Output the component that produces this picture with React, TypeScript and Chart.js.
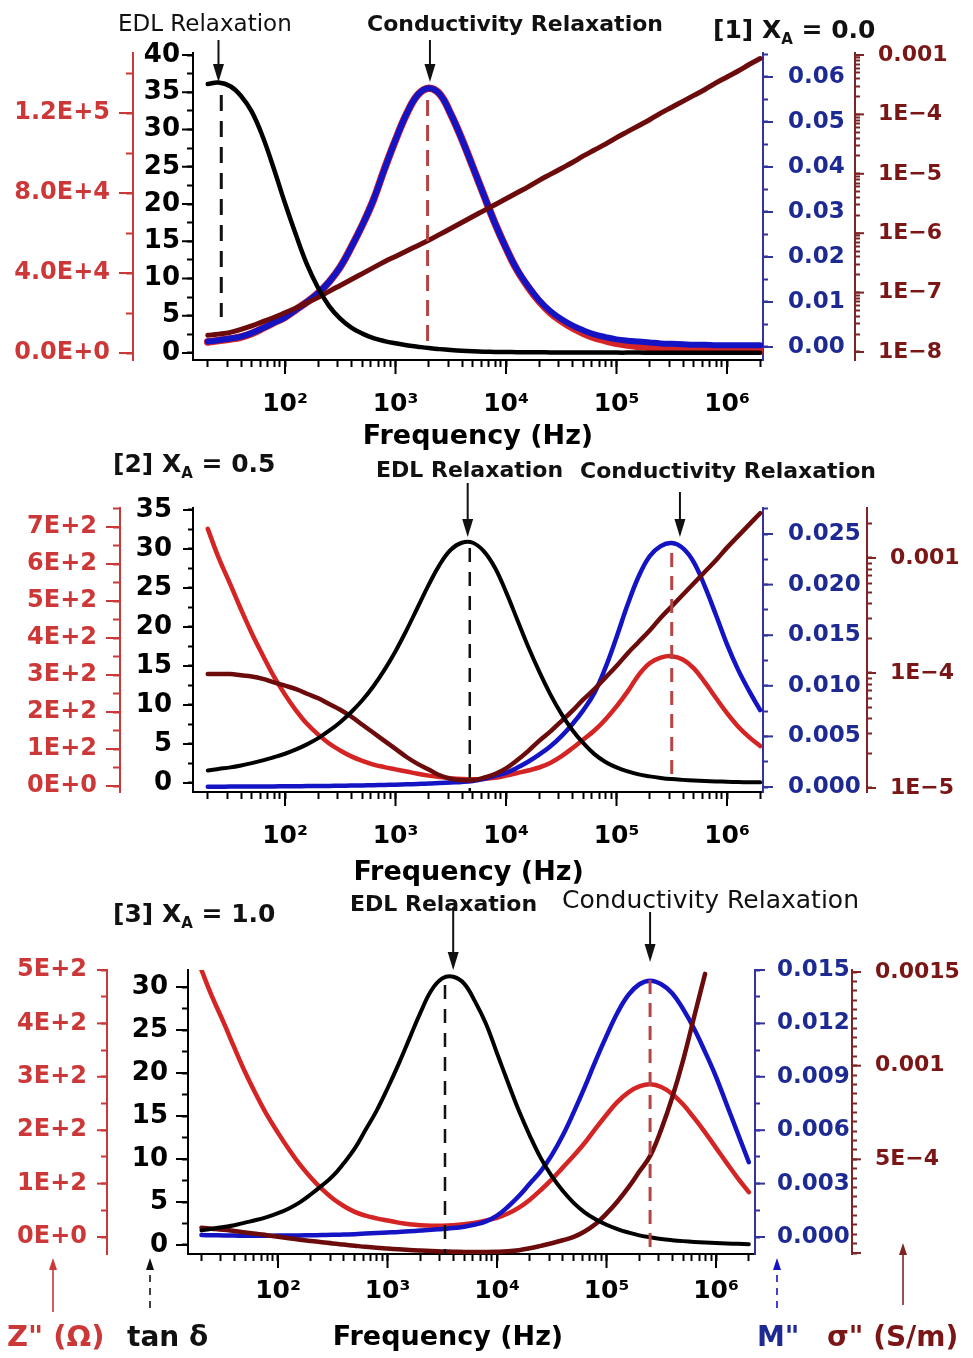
import React, { useEffect, useRef } from "react";
import { Chart, registerables } from "chart.js";

Chart.register(...registerables);

const FONT = "'DejaVu Sans', 'Noto Sans', sans-serif";
Chart.defaults.font.family = FONT;

// ---------------- DATA ----------------
// Frequency grid (Hz), 0.1 decade steps from 20 Hz to 2 MHz
const FREQ = [20, 25, 32, 40, 50, 63, 79, 100, 126, 158, 200, 251, 316, 398, 501, 631, 794, 1000, 1259, 1585, 1995, 2512, 3162, 3981, 5012, 6310, 7943, 10000, 12589, 15849, 19953, 25119, 31623, 39811, 50119, 63096, 79433, 100000, 125893, 158489, 199526, 251189, 316228, 398107, 501187, 630957, 794328, 1000000, 1258925, 1584893, 1995262];

// [1] XA = 0.0
const P1_TAN = [36.1, 36.3, 35.8, 34.5, 32.4, 29.0, 24.8, 20.1, 15.8, 11.9, 8.7, 6.3, 4.6, 3.4, 2.6, 2.0, 1.6, 1.3, 1.05, 0.85, 0.66, 0.52, 0.40, 0.30, 0.23, 0.18, 0.15, 0.13, 0.11, 0.10, 0.09, 0.08, 0.08, 0.07, 0.07, 0.06, 0.06, 0.05, 0.05, 0.05, 0.04, 0.04, 0.04, 0.03, 0.03, 0.03, 0.03, 0.02, 0.02, 0.02, 0.02];
const P1_Z = [5500, 6200, 7000, 8000, 9800, 12400, 15200, 17900, 21700, 25500, 30000, 35600, 43000, 53000, 64000, 76500, 92000, 106500, 119500, 129000, 132400, 129500, 119500, 107000, 93000, 78800, 64900, 52500, 41500, 33000, 25800, 20200, 16000, 12600, 9900, 7700, 6200, 4800, 4000, 3300, 2750, 2200, 1900, 1550, 1200, 1100, 1000, 1000, 1000, 1000, 1000];
const P1_M = [0.0012, 0.0015, 0.0019, 0.0023, 0.0031, 0.0042, 0.0054, 0.0066, 0.0083, 0.0100, 0.0120, 0.0145, 0.0178, 0.0222, 0.0271, 0.0327, 0.0395, 0.0460, 0.0518, 0.0560, 0.0575, 0.0562, 0.0518, 0.0462, 0.0400, 0.0337, 0.0275, 0.0220, 0.0172, 0.0135, 0.0104, 0.0080, 0.0062, 0.0048, 0.0037, 0.0028, 0.0022, 0.0017, 0.0014, 0.0012, 0.0010, 0.0008, 0.0007, 0.0006, 0.0005, 0.0005, 0.0004, 0.0004, 0.0004, 0.0004, 0.0004];
const P1_SIG = [1.91e-8, 2.0e-8, 2.14e-8, 2.4e-8, 2.75e-8, 3.24e-8, 3.8e-8, 4.57e-8, 5.5e-8, 6.76e-8, 8.3e-8, 1.05e-7, 1.32e-7, 1.66e-7, 2.09e-7, 2.63e-7, 3.31e-7, 4.07e-7, 5.0e-7, 6.17e-7, 7.59e-7, 9.55e-7, 1.2e-6, 1.51e-6, 1.91e-6, 2.4e-6, 3.02e-6, 3.8e-6, 4.79e-6, 6.03e-6, 7.76e-6, 9.77e-6, 1.23e-5, 1.55e-5, 2.0e-5, 2.51e-5, 3.16e-5, 4.07e-5, 5.13e-5, 6.46e-5, 8.13e-5, 1.05e-4, 1.32e-4, 1.66e-4, 2.09e-4, 2.63e-4, 3.39e-4, 4.27e-4, 5.37e-4, 6.92e-4, 8.71e-4];

// [2] XA = 0.5
const P2_TAN = [1.6, 1.8, 2.0, 2.25, 2.55, 2.9, 3.3, 3.75, 4.3, 4.95, 5.75, 6.7, 7.8, 9.1, 10.6, 12.4, 14.5, 16.9, 19.6, 22.5, 25.4, 28.0, 29.9, 30.8, 30.8, 29.7, 27.6, 24.5, 21.0, 17.5, 14.3, 11.4, 8.9, 6.8, 5.1, 3.7, 2.7, 2.0, 1.5, 1.1, 0.85, 0.65, 0.5, 0.4, 0.32, 0.26, 0.2, 0.16, 0.12, 0.1, 0.08];
const P2_Z = [695, 618, 545, 477, 413, 353, 297, 247, 204, 168, 139, 115, 96, 80, 68, 58, 51, 45, 39, 33, 28, 24, 21, 19, 18, 19, 22, 28, 35, 42, 50, 62, 80, 102, 126, 150, 180, 215, 255, 300, 332, 347, 351, 342, 318, 280, 238, 197, 161, 132, 108];
const P2_M = [0.00003, 0.00003, 0.00004, 0.00004, 0.00005, 0.00005, 0.00006, 0.00007, 0.00008, 0.00009, 0.0001, 0.00011, 0.00012, 0.00014, 0.00016, 0.00018, 0.0002, 0.00023, 0.00026, 0.0003, 0.00034, 0.0004, 0.00045, 0.0005, 0.0006, 0.0008, 0.0011, 0.0014, 0.0019, 0.0025, 0.0032, 0.0040, 0.0050, 0.0062, 0.0076, 0.0093, 0.0118, 0.0148, 0.0180, 0.0208, 0.0228, 0.0238, 0.0241, 0.0236, 0.0222, 0.0198, 0.0170, 0.0141, 0.0116, 0.0095, 0.0076];
const P2_SIG = [9.8e-5, 9.8e-5, 9.8e-5, 9.55e-5, 9.33e-5, 8.9e-5, 8.3e-5, 7.76e-5, 7.24e-5, 6.6e-5, 6.03e-5, 5.37e-5, 4.79e-5, 4.17e-5, 3.55e-5, 3.02e-5, 2.57e-5, 2.19e-5, 1.86e-5, 1.62e-5, 1.45e-5, 1.29e-5, 1.2e-5, 1.17e-5, 1.17e-5, 1.23e-5, 1.32e-5, 1.48e-5, 1.74e-5, 2.09e-5, 2.57e-5, 3.09e-5, 3.8e-5, 4.68e-5, 5.89e-5, 7.24e-5, 9.12e-5, 1.15e-4, 1.48e-4, 1.86e-4, 2.34e-4, 3.02e-4, 3.8e-4, 4.79e-4, 6.03e-4, 7.59e-4, 9.55e-4, 1.23e-3, 1.55e-3, 1.95e-3, 2.45e-3];

// [3] XA = 1.0
const P3_TAN = [1.7, 1.9, 2.1, 2.3, 2.6, 2.9, 3.25, 3.7, 4.25, 4.95, 5.9, 6.9, 8.0, 9.5, 11.2, 13.4, 15.6, 18.2, 21.0, 24.0, 27.0, 29.6, 31.0, 31.2, 30.4, 28.3, 25.7, 22.3, 18.9, 15.6, 12.7, 10.1, 8.0, 6.3, 4.9, 3.8, 3.0, 2.35, 1.85, 1.45, 1.12, 0.9, 0.7, 0.56, 0.45, 0.36, 0.29, 0.23, 0.18, 0.14, 0.1];
const P3_Z = [500, 450, 401, 354, 309, 267, 229, 195, 164, 136, 111, 90, 72, 58, 47, 40, 35, 31, 27, 24, 22, 21, 21, 22, 24, 27, 31, 36, 44, 55, 70, 88, 108, 130, 152, 176, 203, 229, 253, 271, 282, 286, 281, 268, 248, 223, 196, 167, 138, 110, 84];
const P3_M = [0.00011, 0.0001, 0.00009, 0.00008, 0.00007, 0.00007, 0.00007, 0.00008, 0.00008, 0.00009, 0.0001, 0.00011, 0.00012, 0.00014, 0.00016, 0.00019, 0.00022, 0.00025, 0.00028, 0.00032, 0.00036, 0.0004, 0.00045, 0.0005, 0.00058, 0.0007, 0.00088, 0.0012, 0.0017, 0.0023, 0.003, 0.0037, 0.0046, 0.0057, 0.0070, 0.0084, 0.0099, 0.0113, 0.0126, 0.0136, 0.0142, 0.0144, 0.0142, 0.0137, 0.0128, 0.0117, 0.0104, 0.0090, 0.0074, 0.0058, 0.0042];
const P3_SIG = [1.35e-4, 1.3e-4, 1.24e-4, 1.17e-4, 1.1e-4, 1.03e-4, 9.5e-5, 8.7e-5, 7.9e-5, 7.1e-5, 6.4e-5, 5.8e-5, 5.1e-5, 4.5e-5, 3.9e-5, 3.3e-5, 2.8e-5, 2.4e-5, 2.0e-5, 1.6e-5, 1.3e-5, 1.05e-5, 8.5e-6, 7e-6, 6e-6, 5.5e-6, 5.5e-6, 6.5e-6, 9e-6, 1.5e-5, 2.5e-5, 3.8e-5, 5.2e-5, 6.8e-5, 8.6e-5, 1.15e-4, 1.55e-4, 2.1e-4, 2.75e-4, 3.5e-4, 4.35e-4, 5.2e-4, 6.6e-4, 8.3e-4, 1.03e-3, 1.26e-3, 1.49e-3, null, null, null, null];

// relaxation marker frequencies (Hz)
const P1_MARKS = { edlArrow: 25, edlLine: 26.5, condArrow: 2050, condLine: 1950 };
const P2_MARKS = { edlArrow: 4500, edlLine: 4700, condArrow: 3.75e5, condLine: 3.16e5 };
const P3_MARKS = { edlArrow: 3980, edlLine: 3350, condArrow: 2.5e5, condLine: 2.5e5 };

// ---------------- STYLE ----------------
const BLACK = "#000000";
const RED_LINE = "#d42424";
const RED_AXIS = "#cc3838";
const BLUE_LINE = "#1414c4";
const BLUE_AXIS = "#33339e";
const BLUE_TEXT = "#1d2a92";
const BROWN_LINE = "#6c0b0b";
const BROWN_AXIS = "#7d2424";
const BROWN_TEXT = "#7a1616";
const RED_DASH = "#b54545";

const SUP = { "0": "\u2070", "1": "\u00b9", "2": "\u00b2", "3": "\u00b3", "4": "\u2074", "5": "\u2075", "6": "\u2076", "7": "\u2077", "8": "\u2078", "9": "\u2079" };
const isPow10 = (v) => Math.abs(Math.log10(v) - Math.round(Math.log10(v))) < 1e-6;
const isMult = (v, step) => Math.abs(v / step - Math.round(v / step)) < 1e-6;
const powLabel = (v) => "10" + String(Math.round(Math.log10(v))).split("").map((c) => SUP[c]).join("");
const zLabelA = (v) => {
  if (Math.abs(v) < 1e-9) return "0.0E+0";
  const e = Math.floor(Math.log10(v) + 1e-9);
  return (v / Math.pow(10, e)).toFixed(1) + "E+" + e;
};
const zLabelB = (v) => (Math.abs(v) < 1e-9 ? "0E+0" : Math.round(v / 100) + "E+2");
const sLabelLog = (v) => {
  const e = Math.round(Math.log10(v));
  return e === -3 ? "0.001" : "1E\u2212" + -e;
};
const sLabelLin = (v) => {
  if (Math.abs(v - 0.0015) < 1e-9) return "0.0015";
  if (Math.abs(v - 0.001) < 1e-9) return "0.001";
  if (Math.abs(v - 0.0005) < 1e-9) return "5E\u22124";
  return "";
};

function linTicks(lo, hi, step) {
  const out = [];
  const k0 = Math.round(lo / step), k1 = Math.round(hi / step);
  for (let k = k0; k <= k1; k++) out.push({ value: parseFloat((k * step).toPrecision(10)) });
  return out;
}
function logTicks(lo, hi) {
  const out = [];
  const e0 = Math.floor(Math.log10(lo) + 1e-9), e1 = Math.floor(Math.log10(hi) + 1e-9);
  for (let e = e0; e <= e1; e++) {
    for (let m = 1; m <= 9; m++) {
      const v = parseFloat((m * Math.pow(10, e)).toPrecision(6));
      if (v >= lo * 0.999999 && v <= hi * 1.000001) out.push({ value: v });
    }
  }
  return out;
}

// ---------------- PANELS ----------------
function xAxis(min, max, size, padding, titleText, titlePad) {
  return {
    id: "x", position: "bottom", type: "logarithmic", min, max, tickLo: 20, tickHi: 2e6,
    major: isPow10, label: powLabel, color: BLACK, textColor: BLACK, size, fontSize: 25,
    minorLen: 7, majorLen: 14, padding, title: { text: titleText, pad: titlePad },
  };
}

const PANELS = [
  {
    key: "p1", top: 0, height: 450, areaTop: 53,
    axes: [
      xAxis(14.7, 2.117e6, 90, 22, "Frequency (Hz)", 0),
      { id: "tan", position: "left", weight: 0, type: "linear", min: -0.94, max: 40.27, tickLo: 0, tickHi: 40, step: 2.5, major: (v) => isMult(v, 5), label: (v) => String(v), color: BLACK, textColor: BLACK, size: 60, fontSize: 26, minorLen: 6, majorLen: 11, padding: 7 },
      { id: "z", position: "left", weight: 1, type: "linear", min: -3500, max: 150000, tickLo: 0, tickHi: 140000, step: 20000, major: (v) => isMult(v, 40000), label: zLabelA, color: RED_AXIS, textColor: RED_AXIS, size: 133, fontSize: 24, minorLen: 7, majorLen: 14, padding: 16 },
      { id: "m", position: "right", weight: 0, type: "linear", min: -0.00289, max: 0.06533, tickLo: 0, tickHi: 0.065, step: 0.005, major: (v) => isMult(v, 0.01), label: (v) => v.toFixed(2), color: BLUE_AXIS, textColor: BLUE_TEXT, size: 92, fontSize: 23, minorLen: 5, majorLen: 10, padding: 20 },
      { id: "s", position: "right", weight: 1, type: "logarithmic", min: 7.33e-9, max: 1.081e-3, tickLo: 1e-8, tickHi: 1e-3, major: isPow10, label: sLabelLog, color: BROWN_AXIS, textColor: BROWN_TEXT, size: 118, fontSize: 22, minorLen: 5, majorLen: 9, padding: 18 },
    ],
    series: [
      { values: P1_TAN, axis: "tan", color: BLACK, width: 4.5 },
      { values: P1_SIG, axis: "s", color: BROWN_LINE, width: 5 },
      { values: P1_M, axis: "m", color: BLUE_LINE, width: 6 },
      { values: P1_Z, axis: "z", color: RED_LINE, width: 7.5 },
    ],
    dashes: [
      { f: P1_MARKS.edlLine, y1: 95, y2: 317, color: "#111", width: 3, dash: [16, 10] },
      { f: P1_MARKS.condLine, y1: 100, y2: 345, color: RED_DASH, width: 3, dash: [16, 9] },
    ],
    arrows: [
      { f: P1_MARKS.edlArrow, y1: 40, y2: 82 },
      { f: P1_MARKS.condArrow, y1: 40, y2: 82 },
    ],
    texts: [
      { x: 118, y: 31, color: "#111", parts: [{ t: "EDL Relaxation", size: 23, weight: "normal" }] },
      { x: 367, y: 31, color: "#111", parts: [{ t: "Conductivity Relaxation", size: 22, weight: "bold" }] },
      { x: 713, y: 38, color: "#111", parts: [{ t: "[1] X", size: 25, weight: "bold" }, { t: "A", size: 15, weight: "bold", dy: 6 }, { t: " = 0.0", size: 25, weight: "bold" }] },
    ],
    freeArrows: [],
  },
  {
    key: "p2", top: 450, height: 440, areaTop: 508,
    axes: [
      xAxis(14.7, 2.117e6, 98, 22, "Frequency (Hz)  ", 3.5),
      { id: "tan", position: "left", weight: 0, type: "linear", min: -1.154, max: 35.256, tickLo: 0, tickHi: 35, step: 2.5, major: (v) => isMult(v, 5), label: (v) => String(v), color: BLACK, textColor: BLACK, size: 73, fontSize: 26, minorLen: 5, majorLen: 10, padding: 16 },
      { id: "z", position: "left", weight: 1, type: "linear", min: -16.2, max: 751.4, tickLo: 0, tickHi: 750, step: 50, major: (v) => isMult(v, 100), label: zLabelB, color: RED_AXIS, textColor: RED_AXIS, size: 120, fontSize: 24, minorLen: 7, majorLen: 14, padding: 16 },
      { id: "m", position: "right", weight: 0, type: "linear", min: -0.000494, max: 0.02757, tickLo: 0, tickHi: 0.0275, step: 0.0025, major: (v) => isMult(v, 0.005), label: (v) => v.toFixed(3), color: BLUE_AXIS, textColor: BLUE_TEXT, size: 104, fontSize: 23, minorLen: 5, majorLen: 10, padding: 20 },
      { id: "s", position: "right", weight: 1, type: "logarithmic", min: 9.23e-6, max: 2.72e-3, tickLo: 1e-5, tickHi: 2e-3, major: isPow10, label: sLabelLog, color: BROWN_AXIS, textColor: BROWN_TEXT, size: 106, fontSize: 22, minorLen: 5, majorLen: 9, padding: 18 },
    ],
    series: [
      { values: P2_TAN, axis: "tan", color: BLACK, width: 4 },
      { values: P2_SIG, axis: "s", color: BROWN_LINE, width: 4.5 },
      { values: P2_M, axis: "m", color: BLUE_LINE, width: 4.5 },
      { values: P2_Z, axis: "z", color: RED_LINE, width: 4.5 },
    ],
    dashes: [
      { f: P2_MARKS.edlLine, y1: 548, y2: 792, color: "#111", width: 2.5, dash: [14, 10] },
      { f: P2_MARKS.condLine, y1: 553, y2: 777, color: RED_DASH, width: 3, dash: [14, 9] },
    ],
    arrows: [
      { f: P2_MARKS.edlArrow, y1: 483, y2: 537 },
      { f: P2_MARKS.condArrow, y1: 492, y2: 537 },
    ],
    texts: [
      { x: 113, y: 472, color: "#111", parts: [{ t: "[2] X", size: 25, weight: "bold" }, { t: "A", size: 15, weight: "bold", dy: 6 }, { t: " = 0.5", size: 25, weight: "bold" }] },
      { x: 376, y: 477, color: "#111", parts: [{ t: "EDL Relaxation", size: 22, weight: "bold" }] },
      { x: 580, y: 478, color: "#111", parts: [{ t: "Conductivity Relaxation", size: 22, weight: "bold" }] },
    ],
    freeArrows: [],
  },
  {
    key: "p3", top: 890, height: 468, areaTop: 970,
    axes: [
      xAxis(15.07, 2.27e6, 104, 15, "Frequency (Hz)     ", 6.5),
      { id: "tan", position: "left", weight: 0, type: "linear", min: -1.047, max: 31.98, tickLo: 0, tickHi: 30, step: 2.5, major: (v) => isMult(v, 5), label: (v) => String(v), color: BLACK, textColor: BLACK, size: 81, fontSize: 26, minorLen: 6, majorLen: 12, padding: 14 },
      { id: "z", position: "left", weight: 1, type: "linear", min: -31.8, max: 500, tickLo: 0, tickHi: 500, step: 50, major: (v) => isMult(v, 100), label: zLabelB, color: RED_AXIS, textColor: RED_AXIS, size: 107, fontSize: 24, minorLen: 6, majorLen: 10, padding: 14 },
      { id: "m", position: "right", weight: 0, type: "linear", min: -0.000955, max: 0.015, tickLo: 0, tickHi: 0.015, step: 0.0015, major: (v) => isMult(v, 0.003), label: (v) => v.toFixed(3), color: BLUE_AXIS, textColor: BLUE_TEXT, size: 97, fontSize: 23, minorLen: 5, majorLen: 10, padding: 17 },
      { id: "s", position: "right", weight: 1, type: "linear", min: -5.3e-6, max: 0.0015107, tickLo: 0, tickHi: 0.0015, step: 0.00005, major: (v) => isMult(v, 0.0005), label: sLabelLin, color: BROWN_AXIS, textColor: BROWN_TEXT, size: 121, fontSize: 22, minorLen: 5, majorLen: 9, padding: 18 },
    ],
    series: [
      { values: P3_TAN, axis: "tan", color: BLACK, width: 4 },
      { values: P3_SIG, axis: "s", color: BROWN_LINE, width: 4.5 },
      { values: P3_M, axis: "m", color: BLUE_LINE, width: 4.5 },
      { values: P3_Z, axis: "z", color: RED_LINE, width: 4.5 },
    ],
    dashes: [
      { f: P3_MARKS.edlLine, y1: 985, y2: 1254, color: "#111", width: 2.5, dash: [14, 10] },
      { f: P3_MARKS.condLine, y1: 980, y2: 1254, color: RED_DASH, width: 3, dash: [14, 9] },
    ],
    arrows: [
      { f: P3_MARKS.edlArrow, y1: 907, y2: 970 },
      { f: P3_MARKS.condArrow, y1: 912, y2: 962 },
    ],
    texts: [
      { x: 113, y: 922, color: "#111", parts: [{ t: "[3] X", size: 25, weight: "bold" }, { t: "A", size: 15, weight: "bold", dy: 6 }, { t: " = 1.0", size: 25, weight: "bold" }] },
      { x: 350, y: 911, color: "#111", parts: [{ t: "EDL Relaxation", size: 22, weight: "bold" }] },
      { x: 562, y: 908, color: "#111", parts: [{ t: "Conductivity Relaxation", size: 25, weight: "normal" }] },
      { x: 7, y: 1346, color: RED_AXIS, parts: [{ t: "Z\" (\u03a9)", size: 29, weight: "bold" }] },
      { x: 127, y: 1346, color: "#111", parts: [{ t: "tan \u03b4", size: 28, weight: "bold" }] },
      { x: 757, y: 1346, color: BLUE_TEXT, parts: [{ t: "M\"", size: 28, weight: "bold" }] },
      { x: 827, y: 1346, color: BROWN_TEXT, parts: [{ t: "\u03c3\" (S/m)", size: 28, weight: "bold" }] },
    ],
    freeArrows: [
      { x: 53, y1: 1312, y2: 1258, color: RED_AXIS, dashed: false },
      { x: 150, y1: 1308, y2: 1258, color: "#111", dashed: true },
      { x: 777, y1: 1308, y2: 1258, color: BLUE_LINE, dashed: true },
      { x: 903, y1: 1305, y2: 1243, color: BROWN_AXIS, dashed: false },
    ],
  },
];

// ---------------- BUILDERS ----------------
function buildScale(s) {
  const cfg = {
    type: s.type,
    position: s.position,
    min: s.min,
    max: s.max,
    bounds: "data",
    afterBuildTicks: (scale) => {
      scale.ticks = s.type === "logarithmic" ? logTicks(s.tickLo, s.tickHi) : linTicks(s.tickLo, s.tickHi, s.step);
    },
    afterFit: (scale) => {
      if (s.position === "bottom") scale.height = s.size;
      else scale.width = s.size;
    },
    grid: { display: true, drawOnChartArea: false, drawTicks: true, tickLength: s.minorLen, tickWidth: 2, tickColor: s.color },
    border: { display: true, color: s.color, width: 2 },
    ticks: {
      autoSkip: false,
      maxRotation: 0,
      minRotation: 0,
      padding: s.padding,
      color: s.textColor,
      font: { family: FONT, size: s.fontSize, weight: "bold" },
      callback: (v) => (s.major(v) ? s.label(v) : ""),
    },
    title: s.title
      ? { display: true, text: s.title.text, color: BLACK, font: { family: FONT, size: 27, weight: "bold", lineHeight: 1 }, padding: { top: 0, bottom: s.title.pad } }
      : { display: false },
  };
  if (s.weight !== undefined) cfg.weight = s.weight;
  return cfg;
}

function drawArrow(ctx, x, y1, y2, color, dashed, headW, headL, lw) {
  const dir = Math.sign(y2 - y1);
  ctx.save();
  ctx.strokeStyle = color;
  ctx.fillStyle = color;
  ctx.lineWidth = lw;
  ctx.setLineDash(dashed ? [7, 6] : []);
  ctx.beginPath();
  ctx.moveTo(x, y1);
  ctx.lineTo(x, y2 - dir * headL);
  ctx.stroke();
  ctx.setLineDash([]);
  ctx.beginPath();
  ctx.moveTo(x, y2);
  ctx.lineTo(x - headW / 2, y2 - dir * headL);
  ctx.lineTo(x + headW / 2, y2 - dir * headL);
  ctx.closePath();
  ctx.fill();
  ctx.restore();
}

function overlayPlugin(p) {
  const T = p.top;
  return {
    id: "overlay_" + p.key,
    afterDatasetsDraw(chart) {
      const ctx = chart.ctx;
      const xs = chart.scales.x;
      ctx.save();
      for (const d of p.dashes) {
        const x = xs.getPixelForValue(d.f);
        ctx.strokeStyle = d.color;
        ctx.lineWidth = d.width;
        ctx.setLineDash(d.dash);
        ctx.beginPath();
        ctx.moveTo(x, d.y1 - T);
        ctx.lineTo(x, d.y2 - T);
        ctx.stroke();
      }
      ctx.restore();
    },
    afterDraw(chart) {
      const ctx = chart.ctx;
      ctx.save();
      // longer major tick marks
      for (const a of p.axes) {
        const sc = chart.scales[a.id];
        if (!sc) continue;
        ctx.strokeStyle = a.color;
        ctx.lineWidth = 2;
        for (const t of sc.ticks) {
          if (!a.major(t.value)) continue;
          const px = sc.getPixelForValue(t.value);
          ctx.beginPath();
          if (a.position === "left") {
            ctx.moveTo(sc.right, px);
            ctx.lineTo(sc.right - a.majorLen, px);
          } else if (a.position === "right") {
            ctx.moveTo(sc.left, px);
            ctx.lineTo(sc.left + a.majorLen, px);
          } else {
            ctx.moveTo(px, sc.top);
            ctx.lineTo(px, sc.top + a.majorLen);
          }
          ctx.stroke();
        }
      }
      // relaxation arrows
      const xs = chart.scales.x;
      for (const ar of p.arrows) {
        drawArrow(ctx, xs.getPixelForValue(ar.f), ar.y1 - T, ar.y2 - T, "#111", false, 11, 18, 2);
      }
      for (const ar of p.freeArrows) {
        drawArrow(ctx, ar.x, ar.y1 - T, ar.y2 - T, ar.color, ar.dashed, 8, 12, 1.6);
      }
      // texts
      ctx.textBaseline = "alphabetic";
      ctx.textAlign = "left";
      for (const tx of p.texts) {
        let x = tx.x;
        ctx.fillStyle = tx.color;
        for (const part of tx.parts) {
          ctx.font = `${part.weight} ${part.size}px ${FONT}`;
          ctx.fillText(part.t, x, tx.y - T + (part.dy || 0));
          x += ctx.measureText(part.t).width;
        }
      }
      ctx.restore();
    },
  };
}

function buildConfig(p) {
  const scales = {};
  for (const a of p.axes) scales[a.id] = buildScale(a);
  return {
    type: "line",
    data: {
      datasets: p.series.map((s) => ({
        data: FREQ.map((f, i) => ({ x: f, y: s.values[i] })),
        xAxisID: "x",
        yAxisID: s.axis,
        borderColor: s.color,
        borderWidth: s.width,
        pointRadius: 0,
        pointHoverRadius: 0,
        fill: false,
        tension: 0.4,
        cubicInterpolationMode: "default",
        spanGaps: false,
        borderCapStyle: "round",
        borderJoinStyle: "round",
      })),
    },
    options: {
      responsive: false,
      maintainAspectRatio: false,
      animation: false,
      devicePixelRatio: 1,
      events: [],
      layout: { padding: { top: p.areaTop - p.top, left: 0, right: 0, bottom: 0 }, autoPadding: false },
      plugins: { legend: { display: false }, tooltip: { enabled: false }, title: { display: false } },
      scales,
    },
    plugins: [overlayPlugin(p)],
  };
}

export default function App() {
  const r0 = useRef(null);
  const r1 = useRef(null);
  const r2 = useRef(null);
  const refs = [r0, r1, r2];
  useEffect(() => {
    const charts = PANELS.map((p, i) => new Chart(refs[i].current, buildConfig(p)));
    return () => charts.forEach((c) => c.destroy());
  }, []);
  return (
    <div style={{ position: "absolute", left: 0, top: 0, width: 973, height: 1358, background: "#ffffff" }}>
      {PANELS.map((p, i) => (
        <canvas
          key={p.key}
          ref={refs[i]}
          width={973}
          height={p.height}
          style={{ position: "absolute", left: 0, top: p.top, width: 973, height: p.height, display: "block" }}
        />
      ))}
    </div>
  );
}
